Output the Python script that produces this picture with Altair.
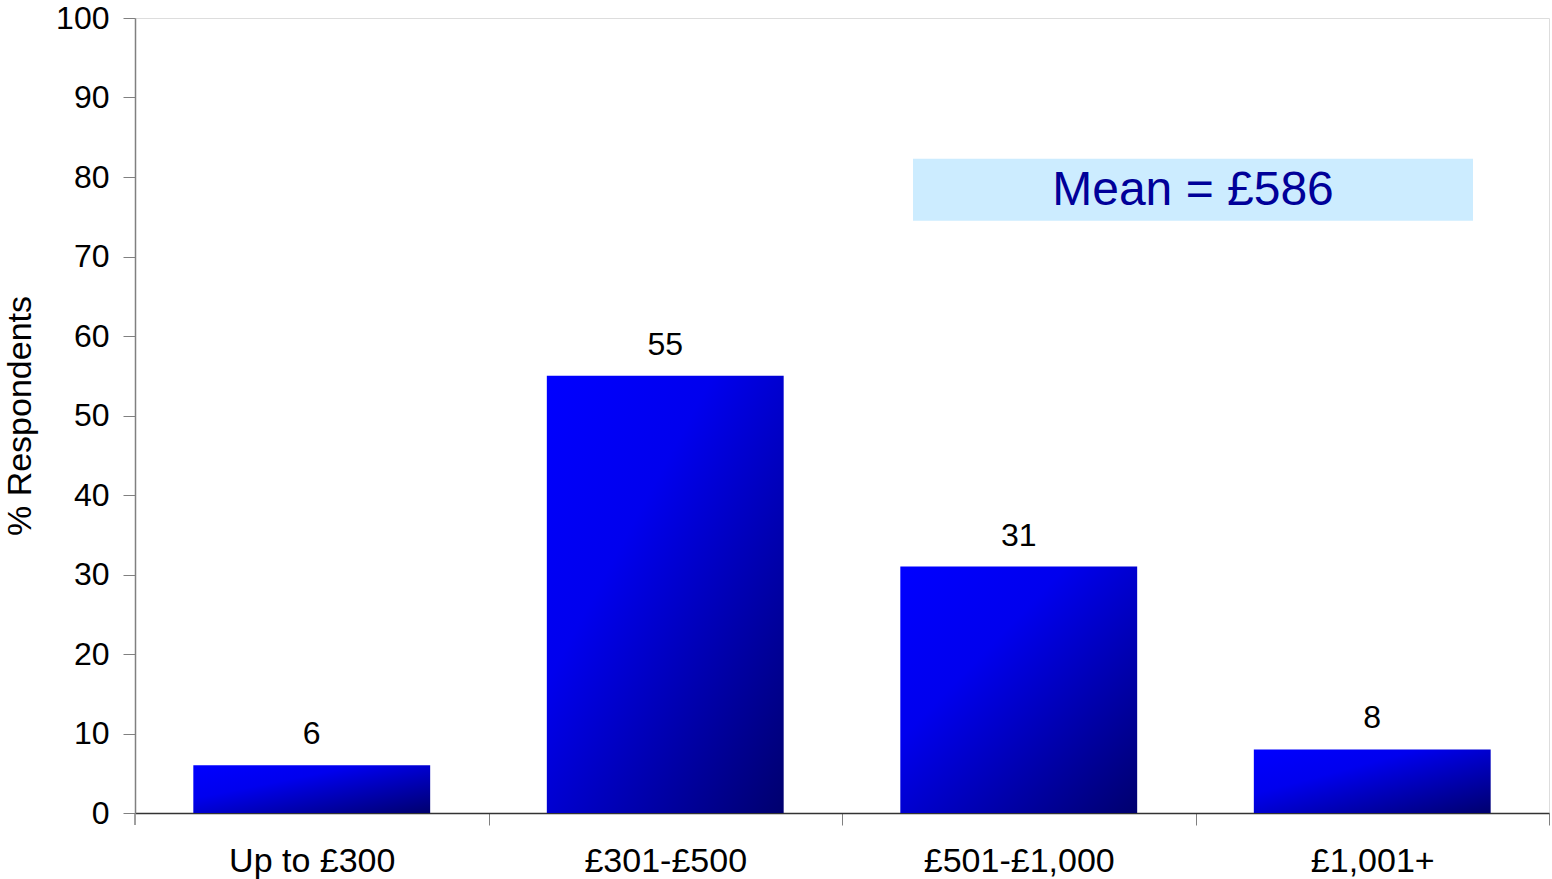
import altair as alt
import pandas as pd

categories = ["Up to £300", "£301-£500", "£501-£1,000", "£1,001+"]
values = [6, 55, 31, 8]
mean_label = ["Mean = £586"]
mean_box_y = [74.5]
mean_box_y2 = [82.3]
mean_text_y = [78.2]

df = pd.DataFrame({"cat": categories, "val": values})
mean_df = pd.DataFrame({"label": mean_label, "y": mean_box_y, "y2": mean_box_y2, "ty": mean_text_y})

FONT = "Liberation Sans"

grad = alt.Gradient(
    gradient="linear",
    x1=0, y1=0, x2=1, y2=1,
    stops=[
        alt.GradientStop(color="#0000FF", offset=0),
        alt.GradientStop(color="#0000EE", offset=0.35),
        alt.GradientStop(color="#00006E", offset=1),
    ],
)

x_enc = alt.X(
    "cat:N",
    sort=categories,
    title=None,
    scale=alt.Scale(paddingInner=0.33, paddingOuter=0.165),
    axis=alt.Axis(
        labelAngle=0,
        labelFont=FONT,
        labelFontSize=34,
        labelColor="#000000",
        labelPadding=19,
        labelLimit=0,
        tickOffset=176.75,
        labelOffset=-176.75,
        tickSize=12,
        tickColor="#808080",
        domainColor="#333333",
        domainWidth=1.5,
    ),
)

y_scale = alt.Scale(domain=[0, 100], nice=False)
y_enc = alt.Y(
    "val:Q",
    scale=y_scale,
    title="% Respondents",
    axis=alt.Axis(
        values=list(range(0, 101, 10)),
        grid=False,
        labelFont=FONT,
        labelFontSize=32,
        labelColor="#000000",
        labelPadding=14,
        tickSize=12,
        tickColor="#808080",
        domainColor="#808080",
        domainWidth=1.5,
        titleFont=FONT,
        titleFontSize=34,
        titleFontWeight="normal",
        titleColor="#000000",
        titlePadding=18,
    ),
)

bars = alt.Chart(df).mark_bar(color=grad).encode(x=x_enc, y=y_enc)

labels = alt.Chart(df).mark_text(
    baseline="bottom", dy=-14, font=FONT, fontSize=32, color="#000000"
).encode(x=alt.X("cat:N", sort=categories), y=alt.Y("val:Q", scale=y_scale), text="val:Q")

box = alt.Chart(mean_df).mark_rect(color="#CCECFF").encode(
    x=alt.value(778), x2=alt.value(1338),
    y=alt.Y("y:Q", scale=y_scale), y2="y2:Q",
)

mean_text = alt.Chart(mean_df).mark_text(
    font=FONT, fontSize=48, color="#000099", baseline="middle", align="center"
).encode(x=alt.value(1058), y=alt.Y("ty:Q", scale=y_scale), text="label:N")

origin_tick = alt.Chart(mean_df).mark_rule(color="#808080", strokeWidth=1.5).encode(
    x=alt.value(0), y=alt.value(795), y2=alt.value(807)
)

chart = (
    alt.layer(bars, labels, box, mean_text, origin_tick)
    .properties(
        width=1414,
        height=795,
        autosize=alt.AutoSizeParams(type="none"),
        padding={"left": 135, "top": 18, "right": 3, "bottom": 66},
    )
    .configure_view(stroke=None)
    .configure(background="#FFFFFF")
)

chart.save("out.html", embed_options={"renderer": "svg", "actions": False})
